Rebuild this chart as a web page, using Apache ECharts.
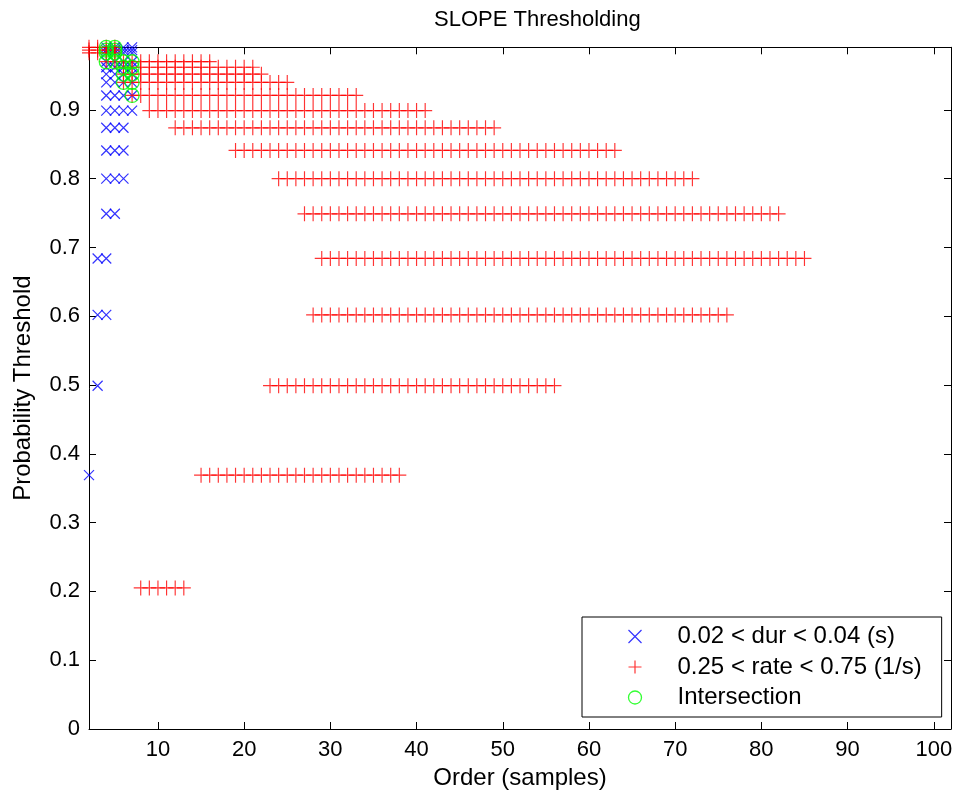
<!DOCTYPE html>
<html>
<head>
<meta charset="utf-8">
<script src="https://cdn.jsdelivr.net/npm/echarts@6/dist/echarts.min.js"></script>
<style>
html,body{margin:0;padding:0;background:#fff;}
#chart{width:961px;height:798px;}
</style>
</head>
<body>
<div id="chart"></div>
<script>
// Probability thresholds (one row of markers per threshold)
const thresholds = [0.991, 0.987, 0.983, 0.970, 0.962, 0.952, 0.940, 0.921, 0.899, 0.874, 0.841, 0.800, 0.749, 0.684, 0.602, 0.499, 0.369, 0.205];
// Orders (samples) satisfying 0.02 < dur < 0.04 (s): first and last order per threshold
const durFirst  = [4, 4, 4, 4, 4, 4, 4, 4, 4, 4, 4, 4, 4, 3, 3, 3, 2, null];
const durLast   = [7, 7, 7, 7, 7, 7, 7, 7, 7, 6, 6, 6, 5, 4, 4, 3, 2, null];
// Orders satisfying 0.25 < rate < 0.75 (1/s): first and last order per threshold
const rateFirst = [2, 2, 2, 4, 6, 6, 6, 7, 9, 12, 19, 24, 27, 29, 28, 23, 15, 8];
const rateLast  = [5, 5, 5, 16, 21, 22, 25, 33, 41, 49, 63, 72, 82, 85, 76, 56, 38, 13];

const xTicks = [10, 20, 30, 40, 50, 60, 70, 80, 90, 100];
const yTicks = [0, 0.1, 0.2, 0.3, 0.4, 0.5, 0.6, 0.7, 0.8, 0.9];
const seriesNames = ['0.02 < dur < 0.04 (s)', '0.25 < rate < 0.75 (1/s)', 'Intersection'];

const durPts = [], ratePts = [], bothPts = [];
thresholds.forEach((t, i) => {
  if (durFirst[i] != null) for (let x = durFirst[i]; x <= durLast[i]; x++) durPts.push([x, t]);
  if (rateFirst[i] != null) for (let x = rateFirst[i]; x <= rateLast[i]; x++) ratePts.push([x, t]);
  if (durFirst[i] != null && rateFirst[i] != null) {
    const a = Math.max(durFirst[i], rateFirst[i]), b = Math.min(durLast[i], rateLast[i]);
    for (let x = a; x <= b; x++) bothPts.push([x, t]);
  }
});

const FONT = 'Liberation Sans, Arial, Helvetica, sans-serif';
const CROSS = 'path://M0,0L10,10M10,0L0,10';
const PLUS = 'path://M0,7L14,7M7,0L7,14';

const chart = echarts.init(document.getElementById('chart'), null, {renderer: 'canvas'});

function mkX(pos, labels) {
  return {
    type: 'value', min: 2, max: 102, position: pos,
    name: labels ? 'Order (samples)' : '',
    nameLocation: 'middle', nameGap: 37,
    nameTextStyle: {fontSize: 24, color: '#000', fontFamily: FONT},
    axisLine: {show: true, onZero: false, lineStyle: {color: '#000', width: 1}},
    axisTick: {show: true, inside: true, length: 7, customValues: xTicks, lineStyle: {color: '#000', width: 1}},
    axisLabel: {show: labels, customValues: xTicks, fontSize: 22, color: '#000', fontFamily: FONT, margin: 10},
    splitLine: {show: false}
  };
}
function mkY(pos, labels) {
  return {
    type: 'value', min: 0, max: 0.991, position: pos,
    name: labels ? 'Probability Threshold' : '',
    nameLocation: 'middle', nameGap: 54,
    nameTextStyle: {fontSize: 24, color: '#000', fontFamily: FONT},
    axisLine: {show: true, onZero: false, lineStyle: {color: '#000', width: 1}},
    axisTick: {show: true, inside: true, length: 7, customValues: yTicks, lineStyle: {color: '#000', width: 1}},
    axisLabel: {show: labels, customValues: yTicks, fontSize: 22, color: '#000', fontFamily: FONT, margin: 9},
    splitLine: {show: false}
  };
}

chart.setOption({
  animation: false,
  backgroundColor: '#fff',
  title: {
    text: 'SLOPE Thresholding',
    left: 434, top: 9,
    padding: 0,
    textStyle: {fontSize: 22, fontWeight: 'normal', color: '#000', fontFamily: FONT}
  },
  grid: {left: 89, right: 10, top: 47.3, bottom: 69, containLabel: false},
  xAxis: [mkX('bottom', true), mkX('top', false)],
  yAxis: [mkY('left', true), mkY('right', false)],
  legend: {
    orient: 'vertical', left: 582, top: 617,
    padding: [7.5, 20, 7.5, 44],
    borderColor: '#000', borderWidth: 1, backgroundColor: '#fff',
    itemWidth: 13, itemHeight: 13, itemGap: 6.5,
    selectedMode: false,
    textStyle: {fontSize: 24, color: '#000', fontFamily: FONT, lineHeight: 24, padding: [0, 0, 0, 31]},
    data: [
      {name: seriesNames[0], icon: CROSS, itemStyle: {color: 'none', borderColor: '#0000ff', borderWidth: 1.2}},
      {name: seriesNames[1], icon: PLUS, itemStyle: {color: 'none', borderColor: '#ff0000', borderWidth: 1.2}},
      {name: seriesNames[2], icon: 'circle', itemStyle: {color: 'none', borderColor: '#00ff00', borderWidth: 1.3}}
    ]
  },
  series: [
    {
      name: seriesNames[0], type: 'scatter', data: durPts, clip: false,
      symbol: CROSS, symbolSize: 10,
      itemStyle: {color: 'none', borderColor: '#0000ff', borderWidth: 1.2},
      emphasis: {disabled: true}
    },
    {
      name: seriesNames[1], type: 'scatter', data: ratePts, clip: false,
      symbol: PLUS, symbolSize: [14, 15],
      itemStyle: {color: 'none', borderColor: '#ff0000', borderWidth: 1.2},
      emphasis: {disabled: true}
    },
    {
      name: seriesNames[2], type: 'scatter', data: bothPts, clip: false,
      symbol: 'circle', symbolSize: 14,
      itemStyle: {color: 'none', borderColor: '#00ff00', borderWidth: 1.3},
      emphasis: {disabled: true}
    }
  ]
});
</script>
</body>
</html>
